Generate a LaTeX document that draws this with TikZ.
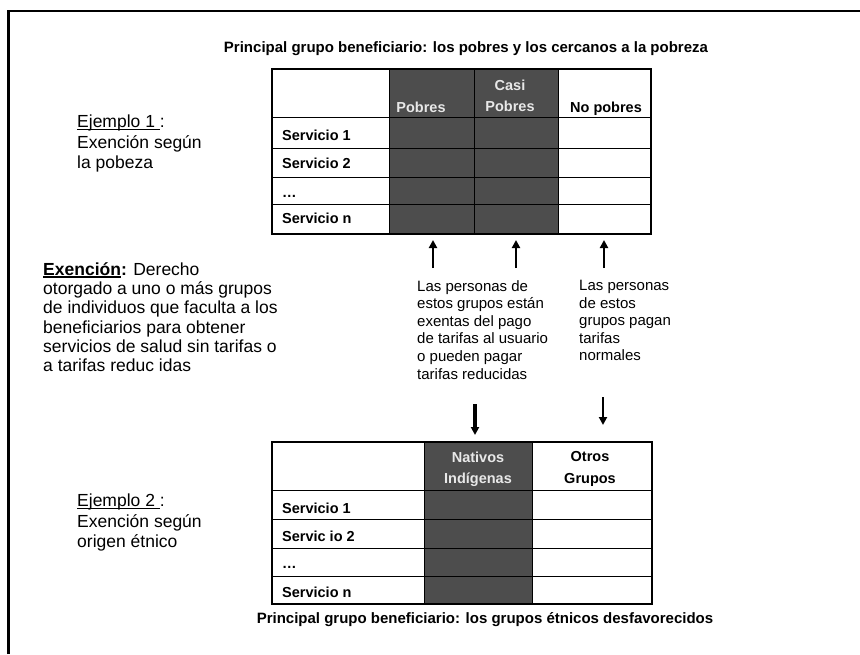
\documentclass[tikz,border=0pt]{standalone}
\usepackage{fontspec}
\setmainfont{Liberation Sans}
\usetikzlibrary{arrows.meta}
\definecolor{oscuro}{HTML}{4D4D4D}
\definecolor{claro}{HTML}{E8E8E8}
\newcommand\subraya[1]{\setbox0\hbox{#1}\rlap{\rule[-2.2pt]{\wd0}{1.3pt}}\box0}
\begin{document}
\begin{tikzpicture}[x=1pt,y=-1pt,
  titulo/.style={font=\fontsize{15}{18}\selectfont\bfseries,anchor=base},
  celda/.style={font=\fontsize{14.5}{21.5}\selectfont\bfseries,align=center,anchor=north,inner sep=0pt},
  fila/.style={font=\fontsize{14.5}{17}\selectfont\bfseries,anchor=base west,inner sep=0pt},
  nota/.style={font=\fontsize{17.5}{20.5}\selectfont,align=left,anchor=north west,inner sep=0pt},
  expl/.style={font=\fontsize{15}{17.6}\selectfont,align=left,anchor=north west,inner sep=0pt},
  flecha/.style={-{Triangle[width=8pt,length=8pt]},line width=2pt}]
\useasboundingbox (0,0) rectangle (860,654);
\draw[line width=2.5pt] (8.7,654) |- (860,11.2);
% ejemplo 1: pobreza
\node[titulo] (tit1) at (466,52) {Principal grupo beneficiario: los pobres y los cercanos a la pobreza};
\fill[oscuro] (389,69) rectangle (558,234);
\foreach \y in {117,148,177,204} {\draw[line width=1pt] (272,\y) -- (651,\y);}
\foreach \x in {389,474,558} {\draw[line width=1pt] (\x,69) -- (\x,234);}
\draw[line width=1.6pt] (272,69) rectangle (651,234);
\node[celda,text=claro] (pob) at (421,101.6) {Pobres};
\node[celda,text=claro] (casi) at (510,79.6) {Casi\\Pobres};
\node[celda] (nopob) at (606,101.6) {No pobres};
\foreach \n/\y/\lab in {s1/140/Servicio 1,s2/168/Servicio 2,s3/197/…,s4/223/Servicio n} {\node[fila] (\n) at (282,\y) {\lab};}
\node[nota] (ej1) at (77,115) {\subraya{Ejemplo 1 }:\\Exención según\\la pobeza};
% definicion
\node[nota,font=\fontsize{17.5}{19.2}\selectfont] (exen) at (43,262.5) {\textbf{\subraya{Exención}:} Derecho\\otorgado a uno o más grupos\\de individuos que faculta a los\\beneficiarios para obtener\\servicios de salud sin tarifas o\\a tarifas reduc idas};
\foreach \n/\x in {1/433,2/516,3/604} {\coordinate (b\n) at (\x,268); \coordinate (t\n) at (\x,240); \draw[flecha] (b\n) -- (t\n);}
\node[expl] (exg) at (417,280) {Las personas de\\estos grupos están\\exentas del pago\\de tarifas al usuario\\o pueden pagar\\tarifas reducidas};
\node[expl] (nog) at (579,280) {Las personas\\de estos\\grupos pagan\\tarifas\\normales};
\coordinate (d1) at (475,404); \coordinate (e1) at (475,435);
\draw[flecha,line width=3.5pt] (d1) -- (e1);
\coordinate (d2) at (603,397); \coordinate (e2) at (603,425);
\draw[flecha] (d2) -- (e2);
% ejemplo 2: origen etnico
\fill[oscuro] (424,442) rectangle (532,604);
\foreach \y in {490,519,548,576} {\draw[line width=1pt] (272,\y) -- (652,\y);}
\foreach \x in {424,532} {\draw[line width=1pt] (\x,442) -- (\x,604);}
\draw[line width=1.6pt] (272,442) rectangle (652,604);
\node[celda,text=claro] (nat) at (478,451.6) {Nativos\\Indígenas};
\node[celda] (otr) at (590,451.6) {Otros\\Grupos};
\foreach \n/\y/\lab in {r1/513/Servicio 1,r2/541/Servic io 2,r3/568/…,r4/597/Servicio n} {\node[fila] (\n) at (282,\y) {\lab};}
\node[nota] (ej2) at (77,494) {\subraya{Ejemplo 2 }:\\Exención según\\origen étnico};
\node[titulo] (tit2) at (485,623) {Principal grupo beneficiario: los grupos étnicos desfavorecidos};
\end{tikzpicture}
\end{document}
